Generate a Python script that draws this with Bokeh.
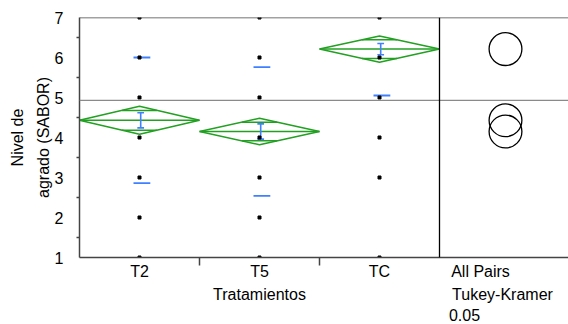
import math
from bokeh.plotting import figure
from bokeh.models import FixedTicker, Span, Range1d, LinearAxis
from bokeh.embed import file_html
from bokeh.resources import INLINE

# ---- data ----
categories = ["T2", "T5", "TC"]
means = [4.43, 4.15, 6.21]
ci_half = [0.35, 0.33, 0.33]
std_err = [0.19, 0.19, 0.14]
std_dev = [1.57, 1.61, 1.16]
grand_mean = 4.93
points_T2 = [1, 2, 3, 4, 5, 6, 7]
points_T5 = [1, 2, 3, 4, 5, 6, 7]
points_TC = [1, 3, 4, 5, 6, 7]
y_ticks = [1, 2, 3, 4, 5, 6, 7]
y_minor = [1.5, 2.5, 3.5, 4.5, 5.5, 6.5]
circle_radius = 0.41
x_label = "Tratamientos"
y_label = "Nivel de\nagrado (SABOR)"
footer_lines = ["All Pairs", "Tukey-Kramer", "0.05"]

FONT = "Liberation Sans"
GREEN = "#22a022"
BLUE = "#4080ff"
AXIS = "#444444"

PX_X = 120.0
x_end = (568 - 79) / PX_X

def xd(px):
    return (px - 79) / PX_X

p = figure(width=568, height=324, x_range=Range1d(0, x_end), y_range=Range1d(1, 7),
           output_backend="svg", toolbar_location=None,
           min_border_left=79, min_border_right=0, min_border_top=17, min_border_bottom=67)
p.outline_line_color = None
p.grid.visible = False
p.background_fill_color = "white"
p.border_fill_color = "white"

xc = [i + 0.5 for i in range(len(categories))]
comp_x = xd(505)

# y axis
p.yaxis.ticker = FixedTicker(ticks=y_ticks, minor_ticks=y_minor)
p.yaxis.major_tick_out = 8
p.yaxis.major_tick_in = 0
p.yaxis.minor_tick_out = 3
p.yaxis.minor_tick_in = 0
p.yaxis.major_label_standoff = 8
p.yaxis.axis_label = y_label
p.yaxis.axis_label_text_font = FONT
p.yaxis.axis_label_text_font_size = "16px"
p.yaxis.axis_label_text_font_style = "normal"
p.yaxis.axis_label_text_color = "black"
p.yaxis.axis_label_text_line_height = 1.5
p.yaxis.axis_label_standoff = 0

# main x axis: categories + first footer line
xt = xc + [xd(480)]
p.xaxis.ticker = FixedTicker(ticks=xt, minor_ticks=[1, 2])
p.xaxis.major_label_overrides = dict(zip(xt, categories + [footer_lines[0]]))
p.xaxis.major_tick_out = 0
p.xaxis.major_tick_in = 0
p.xaxis.minor_tick_out = 8
p.xaxis.minor_tick_in = 0
p.xaxis.major_label_standoff = -3
for ax in (p.xaxis, p.yaxis):
    ax.axis_line_color = AXIS
    ax.axis_line_width = 1.5
    ax.major_tick_line_color = AXIS if ax is p.yaxis else None
    ax.major_tick_line_width = 1.5
    ax.minor_tick_line_color = AXIS
    ax.minor_tick_line_width = 1.5
    ax.major_label_text_font = FONT
    ax.major_label_text_font_size = "16px"
    ax.major_label_text_color = "black"

# extra rows of text below: axis title + comparison method + alpha
def text_axis(ticks, labels, standoff):
    ax = LinearAxis(ticker=FixedTicker(ticks=ticks, minor_ticks=[]),
                    major_label_overrides=dict(zip(ticks, labels)))
    ax.axis_line_color = None
    ax.major_tick_line_color = None
    ax.minor_tick_line_color = None
    ax.major_tick_out = 0
    ax.major_tick_in = 0
    ax.minor_tick_out = 0
    ax.minor_tick_in = 0
    ax.major_label_standoff = standoff
    ax.major_label_text_font = FONT
    ax.major_label_text_font_size = "16px"
    ax.major_label_text_color = "black"
    p.add_layout(ax, "below")

text_axis([1.5, xd(502)], [x_label, footer_lines[1]], 3)
text_axis([xd(464)], [footer_lines[2]], 3)

# reference lines
p.add_layout(Span(location=7, dimension="width", line_color=AXIS, line_width=1.5))
p.add_layout(Span(location=grand_mean, dimension="width", line_color="#8a8a8a", line_width=1.2))
p.add_layout(Span(location=3, dimension="height", line_color="black", line_width=1.3))

# mean diamonds
dxs, dys = [], []
for c, m, h in zip(xc, means, ci_half):
    dxs.append([c - 0.5, c, c + 0.5, c, c - 0.5])
    dys.append([m, m + h, m, m - h, m])
p.multi_line(dxs, dys, line_color=GREEN, line_width=1.5)
p.segment(x0=[c - 0.5 for c in xc], y0=means, x1=[c + 0.5 for c in xc], y1=means,
          line_color=GREEN, line_width=1.5)
k = 1 / math.sqrt(2)
hw = 0.5 * (1 - k)
for sign in (1, -1):
    ys = [m + sign * h * k for m, h in zip(means, ci_half)]
    p.segment(x0=[c - hw for c in xc], y0=ys, x1=[c + hw for c in xc], y1=ys,
              line_color=GREEN, line_width=1.5)

# std dev dashes
for sign in (1, -1):
    ys = [m + sign * s for m, s in zip(means, std_dev)]
    p.segment(x0=[c - 0.05 for c in xc], y0=ys, x1=[c + 0.09 for c in xc], y1=ys,
              line_color=BLUE, line_width=1.8)

# std error bars
ex = [c + 0.01 for c in xc]
p.segment(x0=ex, y0=[m - e for m, e in zip(means, std_err)], x1=ex,
          y1=[m + e for m, e in zip(means, std_err)], line_color=BLUE, line_width=1.6)
for sign in (1, -1):
    ys = [m + sign * e for m, e in zip(means, std_err)]
    p.segment(x0=[x - 0.028 for x in ex], y0=ys, x1=[x + 0.028 for x in ex], y1=ys,
              line_color=BLUE, line_width=1.6)

# data points
px, py = [], []
for c, pts in zip(xc, [points_T2, points_T5, points_TC]):
    px += [c] * len(pts)
    py += pts
p.scatter(px, py, marker="square", size=3, color="black")

# comparison circles
p.circle(x=[comp_x] * len(means), y=means, radius=circle_radius, radius_dimension="y",
         fill_color=None, line_color="black", line_width=1.3)

open("out.html", "w").write(file_html(p, INLINE))
